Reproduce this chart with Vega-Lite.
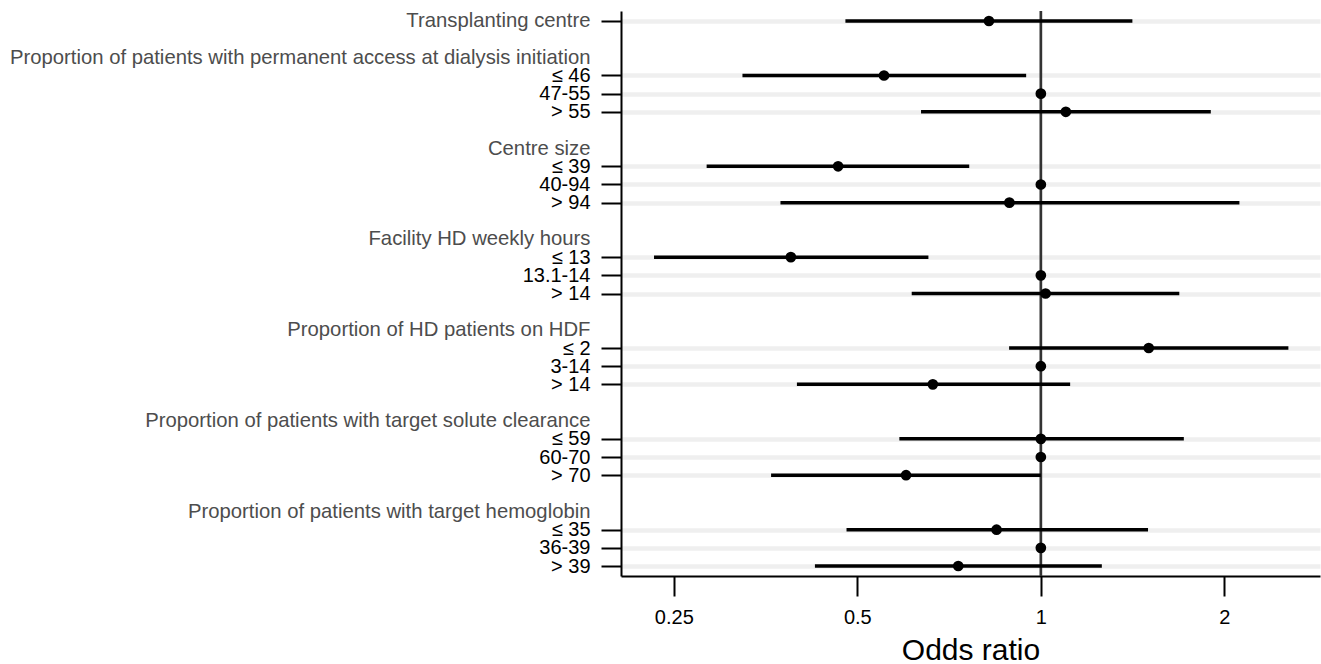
{
  "$schema": "https://vega.github.io/schema/vega-lite/v6.json",
  "width": 699,
  "height": 565,
  "autosize": "none",
  "padding": {"left": 621, "top": 11, "right": 1, "bottom": 88},
  "background": "white",
  "config": {
    "view": {"stroke": null},
    "font": "Liberation Sans"
  },
  "data": {
    "values": [
      {"key": "g00|Transplanting centre", "or": 0.822, "lo": 0.478, "hi": 1.413},
      {"key": "i03|≤ 46", "or": 0.553, "lo": 0.324, "hi": 0.946},
      {"key": "i04|47-55", "or": 1, "lo": null, "hi": null},
      {"key": "i05|> 55", "or": 1.099, "lo": 0.636, "hi": 1.9},
      {"key": "i08|≤ 39", "or": 0.465, "lo": 0.283, "hi": 0.763},
      {"key": "i09|40-94", "or": 1, "lo": null, "hi": null},
      {"key": "i10|> 94", "or": 0.888, "lo": 0.374, "hi": 2.117},
      {"key": "i13|≤ 13", "or": 0.389, "lo": 0.232, "hi": 0.654},
      {"key": "i14|13.1-14", "or": 1, "lo": null, "hi": null},
      {"key": "i15|> 14", "or": 1.018, "lo": 0.614, "hi": 1.687},
      {"key": "i18|≤ 2", "or": 1.503, "lo": 0.887, "hi": 2.547},
      {"key": "i19|3-14", "or": 1, "lo": null, "hi": null},
      {"key": "i20|> 14", "or": 0.665, "lo": 0.398, "hi": 1.117},
      {"key": "i23|≤ 59", "or": 1.0, "lo": 0.586, "hi": 1.716},
      {"key": "i24|60-70", "or": 1, "lo": null, "hi": null},
      {"key": "i25|> 70", "or": 0.601, "lo": 0.361, "hi": 1.0},
      {"key": "i28|≤ 35", "or": 0.846, "lo": 0.48, "hi": 1.499},
      {"key": "i29|36-39", "or": 1, "lo": null, "hi": null},
      {"key": "i30|> 39", "or": 0.732, "lo": 0.426, "hi": 1.259}
    ]
  },
  "layer": [
    {
      "data": {"values": [{"ref": 1}]},
      "mark": {"type": "rule", "color": "#333333", "strokeWidth": 2.7},
      "encoding": {
        "x": {
          "field": "ref",
          "type": "quantitative",
          "title": "Odds ratio",
          "scale": {"type": "log", "domain": [0.2048, 2.87], "nice": false, "zero": false},
          "axis": {
            "values": [0.25, 0.5, 1, 2],
            "format": "~g",
            "grid": false,
            "tickSize": 20,
            "tickWidth": 2,
            "tickColor": "#000000",
            "domainColor": "#000000",
            "domainWidth": 2,
            "labelFont": "Liberation Sans",
            "labelFontSize": 20,
            "labelColor": "#000000",
            "labelPadding": 11,
            "labelFlush": false,
            "titleFont": "Liberation Sans",
            "titleFontSize": 30,
            "titleFontWeight": "normal",
            "titleColor": "#000000",
            "titlePadding": 8
          }
        }
      }
    },
    {
      "encoding": {
        "y": {
          "field": "key",
          "type": "ordinal",
          "scale": {
            "type": "point",
            "padding": 0.55,
            "domain": [
              "g00|Transplanting centre", "b01|",
              "h02|Proportion of patients with permanent access at dialysis initiation",
              "i03|≤ 46", "i04|47-55", "i05|> 55", "b06|",
              "h07|Centre size", "i08|≤ 39", "i09|40-94", "i10|> 94", "b11|",
              "h12|Facility HD weekly hours", "i13|≤ 13", "i14|13.1-14", "i15|> 14", "b16|",
              "h17|Proportion of HD patients on HDF", "i18|≤ 2", "i19|3-14", "i20|> 14", "b21|",
              "h22|Proportion of patients with target solute clearance", "i23|≤ 59", "i24|60-70", "i25|> 70", "b26|",
              "h27|Proportion of patients with target hemoglobin", "i28|≤ 35", "i29|36-39", "i30|> 39"
            ]
          },
          "axis": {
            "title": null,
            "labelExpr": "split(datum.value, '|')[1]",
            "labelFont": "Liberation Sans",
            "labelFontSize": {"condition": {"test": "substring(datum.value, 0, 1) === 'i'", "value": 20}, "value": 20.3},
            "labelLimit": 1000,
            "labelOverlap": false,
            "labelPadding": 11,
            "labelColor": {"condition": {"test": "substring(datum.value, 0, 1) === 'i'", "value": "#000000"}, "value": "#4d4d4d"},
            "tickSize": 20,
            "tickWidth": 2,
            "tickColor": {"condition": {"test": "substring(datum.value, 0, 1) === 'h' || substring(datum.value, 0, 1) === 'b'", "value": "rgba(0,0,0,0)"}, "value": "#000000"},
            "grid": true,
            "gridWidth": 4.5,
            "gridColor": {"condition": {"test": "substring(datum.value, 0, 1) === 'h' || substring(datum.value, 0, 1) === 'b'", "value": "rgba(0,0,0,0)"}, "value": "#efefef"},
            "domainColor": "#000000",
            "domainWidth": 2
          }
        }
      },
      "layer": [
        {
          "mark": {"type": "rule", "color": "#000000", "strokeWidth": 3.5},
          "encoding": {
            "x": {"field": "lo", "type": "quantitative", "title": "Odds ratio"},
            "x2": {"field": "hi"}
          }
        },
        {
          "mark": {"type": "point", "filled": true, "shape": "circle", "size": 115, "color": "#000000", "opacity": 1},
          "encoding": {
            "x": {"field": "or", "type": "quantitative", "title": "Odds ratio"}
          }
        }
      ]
    }
  ]
}
